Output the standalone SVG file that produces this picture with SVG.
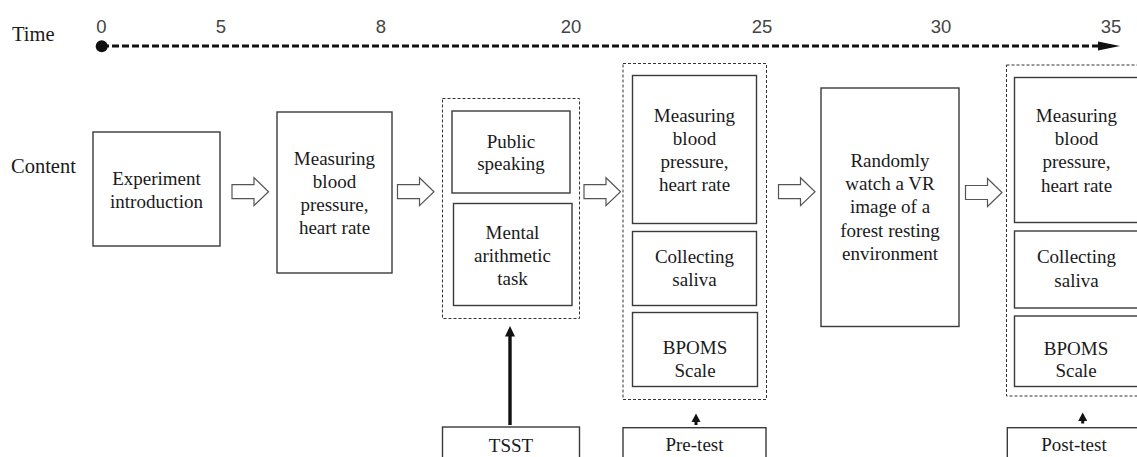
<svg xmlns="http://www.w3.org/2000/svg" width="1137" height="457" viewBox="0 0 1137 457">
<style>
  .lbl{font-size:20.5px;fill:#1a1a1a}
  .t{font-size:19px;fill:#1a1a1a;text-anchor:middle}
  .tick{font-size:18.5px;fill:#444;text-anchor:middle}
  .box{fill:#fff;stroke:#3a3a3a;stroke-width:1.4}
  .grp{fill:none;stroke:#333;stroke-width:1;stroke-dasharray:3 2}
  .hollow{fill:#fff;stroke:#555;stroke-width:1.2}
</style>
<defs>
  <path id="harrow" d="M0,-7 H22 V-14 L36.5,0 L22,14 V7 H0 Z"/>
</defs>
<rect width="1137" height="457" fill="#fff"/>
<g font-family="Liberation Serif, DejaVu Serif, serif">
<g id="timeline">
  <text class="lbl" x="12" y="41">Time</text>
  <g font-family="Liberation Sans, Arial, sans-serif">
  <text class="tick" x="101.5" y="33">0</text>
  <text class="tick" x="221" y="33">5</text>
  <text class="tick" x="381" y="33">8</text>
  <text class="tick" x="571" y="33">20</text>
  <text class="tick" x="762" y="33">25</text>
  <text class="tick" x="941" y="33">30</text>
  <text class="tick" x="1111" y="33">35</text>
  </g>
  <line x1="102" y1="46" x2="1099" y2="46" stroke="#111" stroke-width="3" stroke-dasharray="7 3"/>
  <circle cx="101.7" cy="46.3" r="6" fill="#111"/>
  <polygon points="1098,41.5 1120,46 1098,50.5" fill="#111"/>
</g>

<text class="lbl" x="11" y="173">Content</text>

<g id="experiment-intro">
  <rect class="box" x="93" y="132" width="127" height="114"/>
  <text class="t" x="156.5" y="185">Experiment</text>
  <text class="t" x="156.5" y="208">introduction</text>
</g>

<g id="measure-1">
  <rect class="box" x="277" y="112" width="115" height="161"/>
  <text class="t" x="334.5" y="164.5">Measuring</text>
  <text class="t" x="334.5" y="187.7">blood</text>
  <text class="t" x="334.5" y="211">pressure,</text>
  <text class="t" x="334.5" y="234.3">heart rate</text>
</g>

<g id="tsst-group">
  <rect class="grp" x="442.5" y="98.5" width="137" height="220"/>
  <g id="public-speaking">
    <rect class="box" x="452" y="111" width="118" height="82"/>
    <text class="t" x="511" y="147.5">Public</text>
    <text class="t" x="511" y="170">speaking</text>
  </g>
  <g id="mental-arithmetic">
    <rect class="box" x="453.5" y="203.5" width="118.5" height="102"/>
    <text class="t" x="512.5" y="238.5">Mental</text>
    <text class="t" x="512.5" y="261.5">arithmetic</text>
    <text class="t" x="512.5" y="284.5">task</text>
  </g>
</g>

<g id="pretest-group">
  <rect class="grp" x="623" y="63.5" width="143.5" height="336"/>
  <g id="measure-2">
    <rect class="box" x="632.5" y="75.5" width="124" height="148"/>
    <text class="t" x="694.5" y="121.7">Measuring</text>
    <text class="t" x="694.5" y="144.7">blood</text>
    <text class="t" x="694.5" y="167.7">pressure,</text>
    <text class="t" x="694.5" y="190.5">heart rate</text>
  </g>
  <g id="saliva-1">
    <rect class="box" x="632.5" y="231.5" width="124" height="74"/>
    <text class="t" x="694.5" y="262.5">Collecting</text>
    <text class="t" x="694.5" y="285.5">saliva</text>
  </g>
  <g id="bpoms-1">
    <rect class="box" x="632.5" y="312.5" width="125" height="74"/>
    <text class="t" x="695" y="353.5">BPOMS</text>
    <text class="t" x="695" y="376.5">Scale</text>
  </g>
</g>

<g id="vr-forest">
  <rect class="box" x="821" y="88" width="138" height="238.5"/>
  <text class="t" x="890" y="166.7">Randomly</text>
  <text class="t" x="890" y="190">watch a VR</text>
  <text class="t" x="890" y="213.3">image of a</text>
  <text class="t" x="890" y="236.7">forest resting</text>
  <text class="t" x="890" y="260">environment</text>
</g>

<g id="posttest-group">
  <rect class="grp" x="1006.5" y="65" width="150" height="331"/>
  <g id="measure-3">
    <rect class="box" x="1014.5" y="77.5" width="124" height="145"/>
    <text class="t" x="1076.5" y="121.7">Measuring</text>
    <text class="t" x="1076.5" y="145">blood</text>
    <text class="t" x="1076.5" y="168.3">pressure,</text>
    <text class="t" x="1076.5" y="191.7">heart rate</text>
  </g>
  <g id="saliva-2">
    <rect class="box" x="1014.5" y="231" width="124" height="77"/>
    <text class="t" x="1076.5" y="263.3">Collecting</text>
    <text class="t" x="1076.5" y="286.7">saliva</text>
  </g>
  <g id="bpoms-2">
    <rect class="box" x="1014.5" y="316" width="124" height="70.5"/>
    <text class="t" x="1076" y="355">BPOMS</text>
    <text class="t" x="1076" y="377">Scale</text>
  </g>
</g>

<g id="tsst">
  <rect class="box" x="442.5" y="427" width="137" height="45"/>
  <text class="t" x="511" y="451.7">TSST</text>
</g>
<g id="pre-test">
  <rect class="box" x="623" y="427.7" width="143" height="45"/>
  <text class="t" x="694.5" y="450.5">Pre-test</text>
</g>
<g id="post-test">
  <rect class="box" x="1007.3" y="427.7" width="140" height="45"/>
  <text class="t" x="1074" y="450.5">Post-test</text>
</g>
</g>

<g id="connectors">
  <use href="#harrow" class="hollow" x="232" y="191.7"/>
  <use href="#harrow" class="hollow" x="397.5" y="191.7"/>
  <use href="#harrow" class="hollow" x="584" y="191.7"/>
  <use href="#harrow" class="hollow" x="778.5" y="191.7"/>
  <use href="#harrow" class="hollow" x="965.5" y="192.5"/>
  <line x1="510" y1="425" x2="510" y2="334" stroke="#111" stroke-width="3.4"/>
  <polygon points="505,336.5 510,326 515,336.5" fill="#111"/>
  <line x1="696" y1="425" x2="696" y2="420" stroke="#111" stroke-width="3"/>
  <polygon points="691.5,422 696,413.5 700.5,422" fill="#111"/>
  <line x1="1082.7" y1="423.5" x2="1082.7" y2="419" stroke="#111" stroke-width="3"/>
  <polygon points="1078.2,421 1082.7,412.5 1087.2,421" fill="#111"/>
</g>
</svg>
